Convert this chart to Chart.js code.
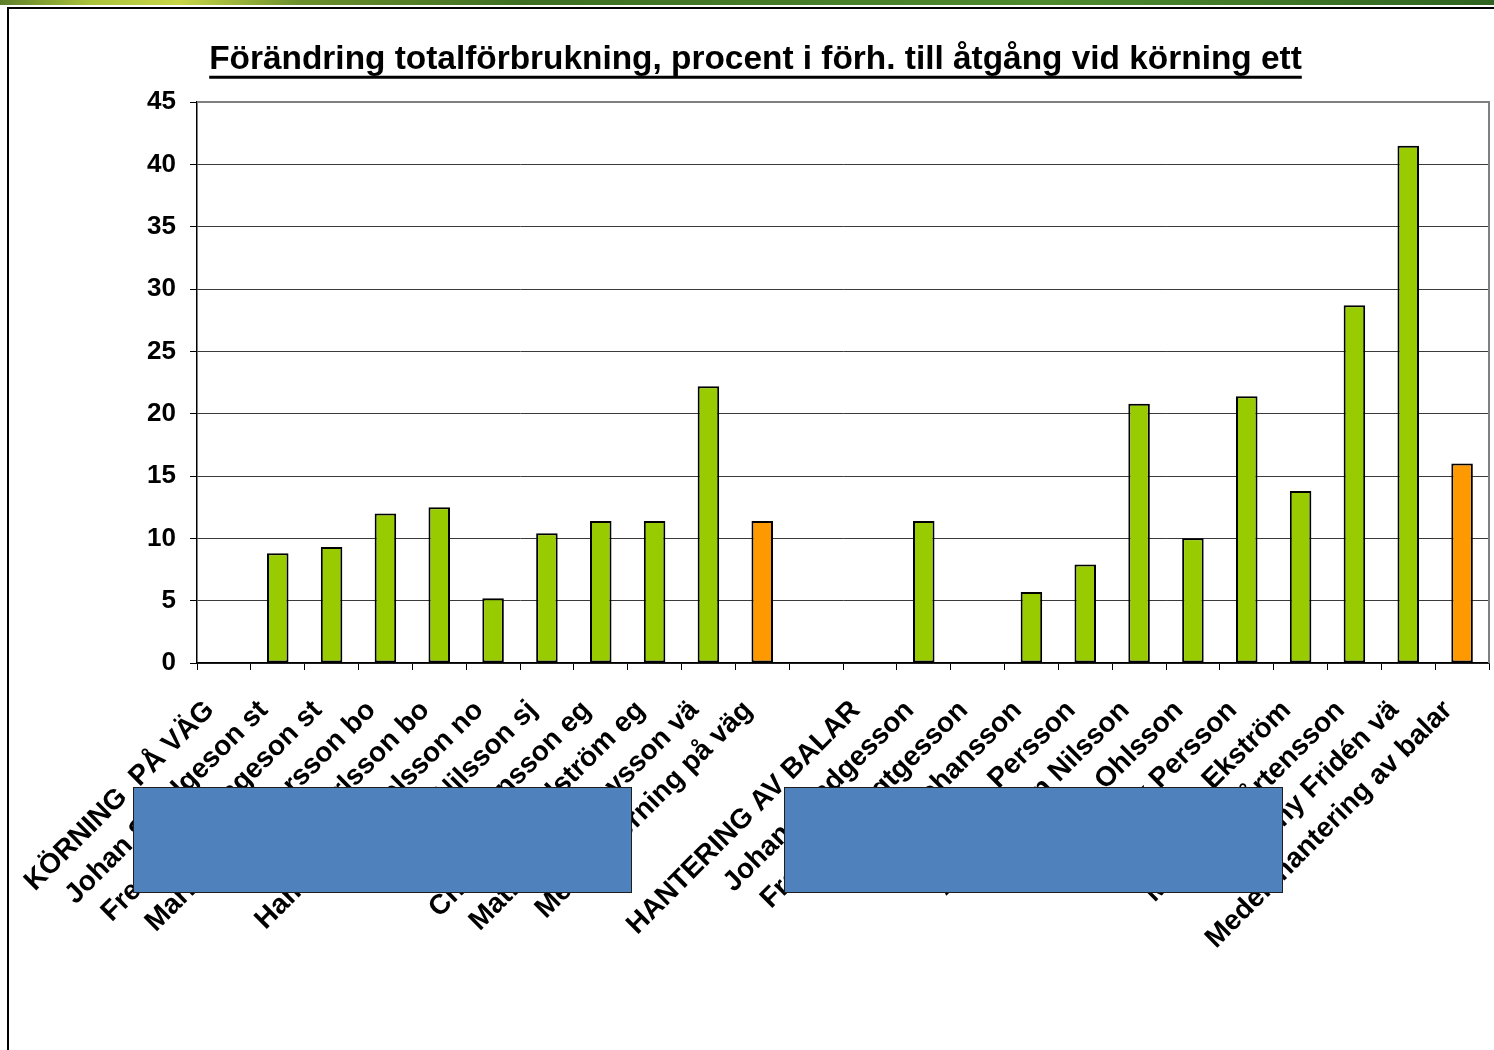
<!DOCTYPE html>
<html lang="sv">
<head>
<meta charset="utf-8">
<title>Förändring totalförbrukning</title>
<script src="https://cdn.jsdelivr.net/npm/chart.js@4.4.1/dist/chart.umd.min.js"></script>
<style>
  html, body { margin: 0; padding: 0; background: #fff; }
  body { width: 1494px; height: 1050px; position: relative; overflow: hidden; }
  #topStrip {
    position: absolute; left: 0; top: 0; width: 1494px; height: 5px;
    background: linear-gradient(to right, #5d7f2a 0%, #a9c23a 6%, #c8d648 12%, #6b8f2c 20%, #3d6e22 35%, #4f8a2e 70%, #2f6320 100%);
  }
  #frame {
    position: absolute; left: 7px; top: 7px; width: 1500px; height: 1060px;
    border-left: 2px solid #000; border-top: 2px solid #000;
  }
  #chart { position: absolute; left: 0; top: 0; }
  .mask {
    position: absolute; top: 787px; width: 499px; height: 106px;
    background: #4f81bd; border: 1.5px solid #1e1e1e; box-sizing: border-box;
  }
</style>
</head>
<body>
<div id="topStrip"></div>
<div id="frame"></div>
<canvas id="chart" width="1494" height="1050"></canvas>
<div class="mask" style="left:133px"></div>
<div class="mask" style="left:784px"></div>

<script>
const chartTitle = 'Förändring totalförbrukning, procent i förh. till åtgång vid körning ett';

// kategorier (namnen är delvis dolda i originalet)
const categories = [
    'KÖRNING  PÅ VÄG',
    'Johan Sandgeson st',
    'Fredrik A Bengeson st',
    'Markus Gunnarsson bo',
    'Per Karlsson bo',
    'Hampus Danielsson no',
    'Olle Nilsson sj',
    'Erik Jonsson eg',
    'Christer Lindström eg',
    'Mathias Gustavsson vä',
    'Medel  körning på väg',
    '',
    'HANTERING AV BALAR',
    'Johan Sandgesson',
    'Fredrik Bengtgesson',
    'Anders Johansson',
    'Lars Persson',
    'Ann-Kristin Nilsson',
    'Karin Ohlsson',
    'Erik Persson',
    'Anna Ekström',
    'Magnus Mårtensson',
    'Anny Fridén vä',
    'Medel  hantering av balar'
];

// procentuell förändring
const changePercent = [
    null, 8.8, 9.3, 12.0, 12.5, 5.2, 10.4, 11.4, 11.4, 22.2, 11.4,
    null,
    null, 11.4, null, 5.7, 7.9, 20.8, 10.0, 21.4, 13.8, 28.7, 41.5, 16.0
];

const yMin = 0;
const yMax = 45;
const yStep = 5;

const GREEN = '#99cc00';
const ORANGE = '#ff9900';

function barColor(label) {
    return label.startsWith('Medel') ? ORANGE : GREEN;
}

const titleUnderline = {
    id: 'titleUnderline',
    afterDraw(chart) {
        const t = chart.titleBlock;
        const opts = chart.options.plugins.title;
        const ctx = chart.ctx;
        ctx.save();
        ctx.font = Chart.helpers.toFont(opts.font).string;
        const w = ctx.measureText(opts.text).width;
        const cx = (t.left + t.right) / 2;
        const y = t.top + opts.padding.top + opts.font.size * 1.2 / 2 + opts.font.size * 0.47;
        ctx.fillStyle = '#000';
        ctx.fillRect(cx - w / 2, y, w, 3);
        ctx.restore();
    }
};

const plotFrame = {
    id: 'plotFrame',
    beforeDatasetsDraw(chart) {
        const { ctx, chartArea: a } = chart;
        ctx.save();
        ctx.strokeStyle = '#808080';
        ctx.lineWidth = 2;
        ctx.beginPath();
        ctx.moveTo(a.left, a.top);
        ctx.lineTo(a.right, a.top);
        ctx.lineTo(a.right, a.bottom);
        ctx.stroke();
        ctx.restore();
    }
};

function initChart() {
    const ctx = document.getElementById('chart').getContext('2d');

    new Chart(ctx, {
        type: 'bar',
        data: {
            labels: categories,
            datasets: [{
                data: changePercent,
                backgroundColor: categories.map(barColor),
                borderColor: '#000',
                borderWidth: 2,
                borderSkipped: false,
                categoryPercentage: 1,
                barPercentage: 0.4
            }]
        },
        options: {
            responsive: false,
            animation: false,
            layout: { padding: { left: 22, right: 5, top: 0, bottom: 0 } },
            plugins: {
                legend: { display: false },
                tooltip: { enabled: false },
                title: {
                    display: true,
                    text: chartTitle,
                    color: '#000',
                    font: { family: "'Liberation Sans', Arial, sans-serif", size: 33.4, weight: 'bold' },
                    padding: { top: 40, bottom: 22 }
                }
            },
            scales: {
                x: {
                    afterFit(scale) {
                        scale.height = 387;
                        scale.paddingLeft = 0;
                        scale.paddingRight = 0;
                    },
                    grid: {
                        display: true,
                        drawOnChartArea: false,
                        drawTicks: true,
                        tickLength: 7,
                        color: '#000',
                        offset: true
                    },
                    border: { color: '#000', width: 1.5 },
                    ticks: {
                        autoSkip: false,
                        minRotation: 45,
                        maxRotation: 45,
                        padding: 24,
                        labelOffset: -14,
                        color: '#000',
                        font: { family: "'Liberation Sans', Arial, sans-serif", size: 28, weight: 'bold' }
                    }
                },
                y: {
                    min: yMin,
                    max: yMax,
                    afterFit(scale) { scale.width = 175; },
                    grid: {
                        color: '#3a3a3a',
                        lineWidth: 1,
                        tickLength: 7,
                        tickColor: '#000'
                    },
                    border: { color: '#000', width: 1.5 },
                    ticks: {
                        stepSize: yStep,
                        padding: 14,
                        color: '#000',
                        font: { family: "'Liberation Sans', Arial, sans-serif", size: 26, weight: 'bold' }
                    }
                }
            }
        },
        plugins: [plotFrame, titleUnderline]
    });
}

document.addEventListener('DOMContentLoaded', initChart);
</script>
</body>
</html>
